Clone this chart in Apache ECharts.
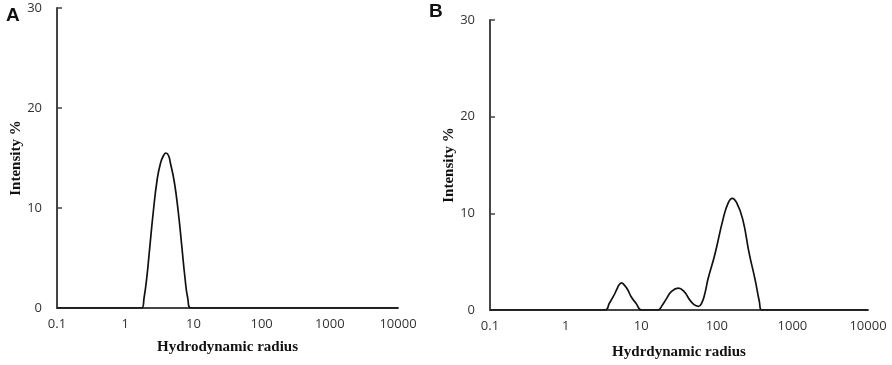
<!DOCTYPE html>
<html>
<head>
<meta charset="utf-8">
<script src="https://cdn.jsdelivr.net/npm/echarts@6/dist/echarts.min.js"></script>
<style>
  html, body { margin: 0; padding: 0; background: #fff; }
  #chart { width: 892px; height: 365px; }
</style>
</head>
<body>
<div id="chart"></div>
<script>
// tick labels for the log radius axis and the intensity axis
const xTickLabels = ["0.1", "1", "10", "100", "1000", "10000"];
const yMin = 0, yMax = 30, yStep = 10;

// panel A: [radius, intensity %]
const panelA = [
  [0.1, 0], [1.75, 0], [1.89, 1.0], [2.07, 3.0], [2.31, 6.3], [2.58, 9.6],
  [2.95, 12.9], [3.3, 14.5], [3.65, 15.25], [3.96, 15.5], [4.31, 15.25],
  [4.6, 14.5], [5.25, 12.6], [6.0, 9.6], [6.73, 6.3], [7.53, 3.0],
  [8.25, 1.0], [9.22, 0], [10000, 0]
];

// panel B: [radius, intensity %]
const panelB = [
  [0.1, 0], [3.32, 0], [3.79, 0.7], [4.28, 1.4], [4.74, 2.1], [5.1, 2.6],
  [5.5, 2.8], [5.95, 2.6], [6.63, 2.1], [7.33, 1.4], [8.53, 0.7], [10.2, 0],
  [16.5, 0], [19, 0.5], [21.3, 1.1], [25, 1.9], [31, 2.27], [37, 1.9],
  [43.3, 1.1], [50, 0.55], [57, 0.38],
  [63, 0.7], [70, 1.8], [76.5, 3.2], [94.6, 5.8], [121, 9.4], [142, 11.1],
  [160, 11.55], [183, 11.1], [220, 9.4], [269, 5.8], [320, 3.2], [365, 0.9],
  [393, 0], [10000, 0]
];

const myChart = echarts.init(document.getElementById("chart"));

const titleFont = {
  fontFamily: "Liberation Serif",
  fontWeight: "bold",
  fontSize: 15,
  color: "#111"
};

function xAxisFor(gridIndex, name, gap) {
  return {
    type: "log",
    logBase: 10,
    min: 0.1,
    max: 10000,
    gridIndex: gridIndex,
    name: name,
    nameLocation: "middle",
    nameGap: gap,
    nameTextStyle: titleFont,
    axisLine: { lineStyle: { color: "#444", width: 2 } },
    axisTick: { show: false },
    splitLine: { show: false },
    minorTick: { show: false },
    axisLabel: {
      color: "#333",
      fontFamily: "Open Sans",
      fontSize: 13,
      margin: 10,
      formatter: function (v) {
        const idx = Math.round(Math.log10(v)) + 1;
        return xTickLabels[idx] || "";
      }
    }
  };
}

function yAxisFor(gridIndex, gap) {
  return {
    type: "value",
    min: yMin,
    max: yMax,
    interval: yStep,
    gridIndex: gridIndex,
    name: "Intensity %",
    nameLocation: "middle",
    nameGap: gap,
    nameTextStyle: titleFont,
    axisLine: { show: true, lineStyle: { color: "#444", width: 2 } },
    axisTick: { show: true, inside: true, length: 5, lineStyle: { color: "#444", width: 1.5 } },
    splitLine: { show: false },
    axisLabel: { color: "#333", fontFamily: "Open Sans", fontSize: 13, margin: 15 }
  };
}

const lineStyle = { color: "#111", width: 1.7 };
const letterFont = { fontFamily: "Liberation Sans", fontWeight: "bold", fontSize: 19, color: "#111" };

const option = {
  animation: false,
  title: [
    { text: "A", left: 1, top: 1, textStyle: letterFont },
    { text: "B", left: 424, top: -3, textStyle: letterFont }
  ],
  grid: [
    { left: 57, top: 8, width: 341, height: 300 },
    { left: 490, top: 20, width: 378, height: 291 }
  ],
  xAxis: [
    xAxisFor(0, "Hydrodynamic radius", 32),
    xAxisFor(1, "Hydrdynamic radius", 35)
  ],
  yAxis: [yAxisFor(0, 30), yAxisFor(1, 30)],
  series: [
    {
      type: "line", xAxisIndex: 0, yAxisIndex: 0, data: panelA,
      smooth: 0.5, showSymbol: false, lineStyle: lineStyle
    },
    {
      type: "line", xAxisIndex: 1, yAxisIndex: 1, data: panelB,
      smooth: 0.5, showSymbol: false, lineStyle: lineStyle
    }
  ]
};

myChart.setOption(option);
</script>
</body>
</html>
